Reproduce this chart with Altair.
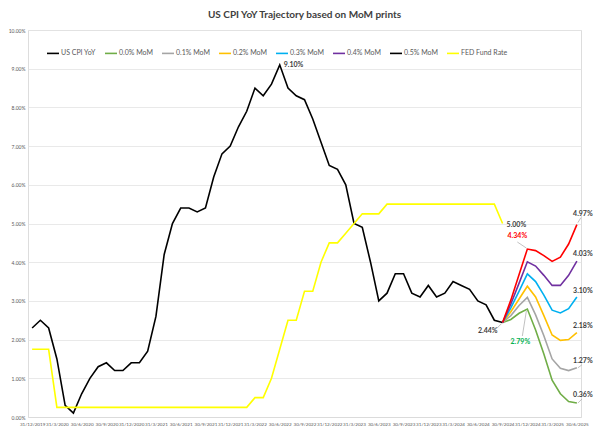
import altair as alt
import pandas as pd

# ---- categories (month-end dates) ----
try:
    months = pd.date_range("2019-12-31", "2025-06-30", freq="ME")
except Exception:
    months = pd.date_range("2019-12-31", "2025-06-30", freq="M")
month_labels = [f"{d.day}/{d.month}/{d.year}" for d in months]

# ---- history (Dec 2019 .. Sep 2024) ----
cpi_yoy = [2.3, 2.5, 2.3, 1.5, 0.3, 0.1, 0.6, 1.0, 1.3, 1.4, 1.2, 1.2,
           1.4, 1.4, 1.7, 2.6, 4.2, 5.0, 5.4, 5.4, 5.3, 5.4, 6.2, 6.8,
           7.0, 7.5, 7.9, 8.5, 8.3, 8.6, 9.1, 8.5, 8.3, 8.2, 7.7, 7.1,
           6.5, 6.4, 6.0, 5.0, 4.9, 4.0, 3.0, 3.2, 3.7, 3.7, 3.2, 3.1,
           3.4, 3.1, 3.2, 3.5, 3.4, 3.3, 3.0, 2.9, 2.5, 2.44]
fed_rate = [1.75, 1.75, 1.75, 0.25, 0.25, 0.25, 0.25, 0.25, 0.25, 0.25, 0.25, 0.25,
            0.25, 0.25, 0.25, 0.25, 0.25, 0.25, 0.25, 0.25, 0.25, 0.25, 0.25, 0.25,
            0.25, 0.25, 0.25, 0.5, 0.5, 1.0, 1.75, 2.5, 2.5, 3.25, 3.25, 4.0,
            4.5, 4.5, 4.75, 5.0, 5.25, 5.25, 5.25, 5.5, 5.5, 5.5, 5.5, 5.5,
            5.5, 5.5, 5.5, 5.5, 5.5, 5.5, 5.5, 5.5, 5.5, 5.0]

# ---- scenarios (Sep 2024 .. Jun 2025) ----
scen_start = 57
mom_00 = [2.44, 2.52, 2.68, 2.79, 2.25, 1.63, 0.95, 0.60, 0.40, 0.36]
mom_01 = [2.44, 2.62, 2.88, 3.09, 2.64, 2.10, 1.50, 1.26, 1.20, 1.27]
mom_02 = [2.44, 2.72, 3.05, 3.38, 3.10, 2.62, 2.12, 1.98, 2.00, 2.18]
mom_03 = [2.44, 2.82, 3.25, 3.70, 3.50, 3.15, 2.76, 2.69, 2.80, 3.10]
mom_04 = [2.44, 2.92, 3.46, 4.01, 3.90, 3.66, 3.40, 3.40, 3.66, 4.03]
mom_05 = [2.44, 3.02, 3.68, 4.34, 4.30, 4.17, 4.02, 4.13, 4.47, 4.97]

series_names = ["US CPI YoY", "0.0% MoM", "0.1% MoM", "0.2% MoM", "0.3% MoM",
                "0.4% MoM", "0.5% MoM", "FED Fund Rate"]
legend_colors = ["#000000", "#70AD47", "#A5A5A5", "#FFC000", "#00B0F0",
                 "#7030A0", "#000000", "#FFFF00"]

FONT = "Lato"
LBL = "#404040"

rows = []
for i, v in enumerate(cpi_yoy):
    rows.append({"series": "US CPI YoY", "month": month_labels[i], "value": v, "order": i})
for name, vals in [("0.0% MoM", mom_00), ("0.1% MoM", mom_01), ("0.2% MoM", mom_02),
                   ("0.3% MoM", mom_03), ("0.4% MoM", mom_04)]:
    for j, v in enumerate(vals):
        rows.append({"series": name, "month": month_labels[scen_start + j], "value": v,
                     "order": scen_start + j})
for i, v in enumerate(fed_rate):
    rows.append({"series": "FED Fund Rate", "month": month_labels[i], "value": v, "order": i})
df = pd.DataFrame(rows)
df_red = pd.DataFrame({"series": "0.5% MoM",
                       "month": month_labels[scen_start:scen_start + len(mom_05)],
                       "value": mom_05,
                       "order": list(range(scen_start, scen_start + len(mom_05)))})

x_enc = alt.X("month:O",
              scale=alt.Scale(type="point", domain=month_labels, padding=0.5),
              axis=alt.Axis(values=month_labels[::3], labelAngle=0, labelOverlap=False,
                            labelFontSize=4.6, labelFont=FONT, labelColor="#595959",
                            ticks=False, domainColor="#D9D9D9", domainWidth=0.8,
                            labelPadding=4, title=None, grid=False))
y_enc = alt.Y("value:Q",
              scale=alt.Scale(domain=[0, 10], nice=False),
              axis=alt.Axis(values=list(range(0, 11)),
                            labelExpr="format(datum.value, '.2f') + '%'",
                            labelFontSize=5, labelFont=FONT, labelColor="#595959",
                            ticks=False, domain=False, gridColor="#E3E3E3",
                            gridWidth=0.8, labelPadding=3, title=None))

lines = alt.Chart(df).mark_line(strokeWidth=1.6).encode(
    x=x_enc, y=y_enc,
    color=alt.Color("series:N",
                    scale=alt.Scale(domain=series_names, range=legend_colors),
                    legend=alt.Legend(orient="none", direction="horizontal",
                                      legendX=18, legendY=16, title=None,
                                      symbolType="stroke", symbolSize=144,
                                      symbolStrokeWidth=1.6, labelFontSize=7,
                                      labelFont=FONT, labelColor="#595959",
                                      columnPadding=5, labelOffset=1)),
    detail="series:N",
    order="order:Q")

red = alt.Chart(df_red).mark_line(strokeWidth=1.6, color="#FF0000").encode(
    x=x_enc, y=y_enc, order="order:Q")


def label(vals, start, i, color, dx, dy, align="center"):
    v = vals[i]
    d = pd.DataFrame({"month": [month_labels[start + i]], "value": [v],
                      "text": [f"{v:.2f}%"]})
    return alt.Chart(d).mark_text(font=FONT, fontSize=7, fontWeight="bold",
                                  color=color, dx=dx, dy=dy, align=align,
                                  baseline="middle").encode(x=x_enc, y=y_enc, text="text:N")


def leader(vals, start, i, x1, y1, x2, y2):
    v = vals[i]
    d = pd.DataFrame({"month": [month_labels[start + i]], "value": [v]})
    return alt.Chart(d).mark_rule(color="#A6A6A6", strokeWidth=0.7,
                                  xOffset=x1, yOffset=y1, x2Offset=x2,
                                  y2Offset=y2).encode(
        x=x_enc, y=y_enc, x2=alt.X2("month"), y2=alt.Y2("value"))


leaders = [
    leader(mom_00, scen_start, 3, -1, 2, -5, 27),
    leader(mom_05, scen_start, 3, -1, -1, -10, -7),
    leader(cpi_yoy, 0, 57, -1, 1, -6, 6),
    leader(mom_05, scen_start, 9, 1, -2, 4, -7),
    leader(mom_01, scen_start, 9, 1, 0, 5, -3),
    leader(mom_00, scen_start, 9, 1, 0, 5, -4),
]

labels = [
    label(cpi_yoy, 0, 30, LBL, 4, 0, "left"),
    label(fed_rate, 0, 57, LBL, 4, 1, "left"),
    label(cpi_yoy, 0, 57, LBL, -5, 8, "right"),
    label(mom_00, scen_start, 3, "#00B050", -7, 33),
    label(mom_05, scen_start, 3, "#FF0000", -10, -13),
    label(mom_05, scen_start, 9, LBL, 6, -11),
    label(mom_04, scen_start, 9, LBL, 6, -7),
    label(mom_03, scen_start, 9, LBL, 6, -6),
    label(mom_02, scen_start, 9, LBL, 6, -7),
    label(mom_01, scen_start, 9, LBL, 6, -7),
    label(mom_00, scen_start, 9, LBL, 6, -8),
]

chart = alt.layer(lines, red, *leaders, *labels).properties(
    width=586, height=420,
    autosize=alt.AutoSizeParams(type="fit", contains="padding"),
    padding={"left": 0, "right": 1, "top": 2, "bottom": 2},
    title=alt.TitleParams("US CPI YoY Trajectory based on MoM prints", font=FONT,
                          fontSize=10, fontWeight="bold", color="#404040",
                          anchor="middle", offset=8),
).configure_view(stroke=None).configure(background="white")

chart.save("out.html", embed_options={"renderer": "svg", "actions": False})
